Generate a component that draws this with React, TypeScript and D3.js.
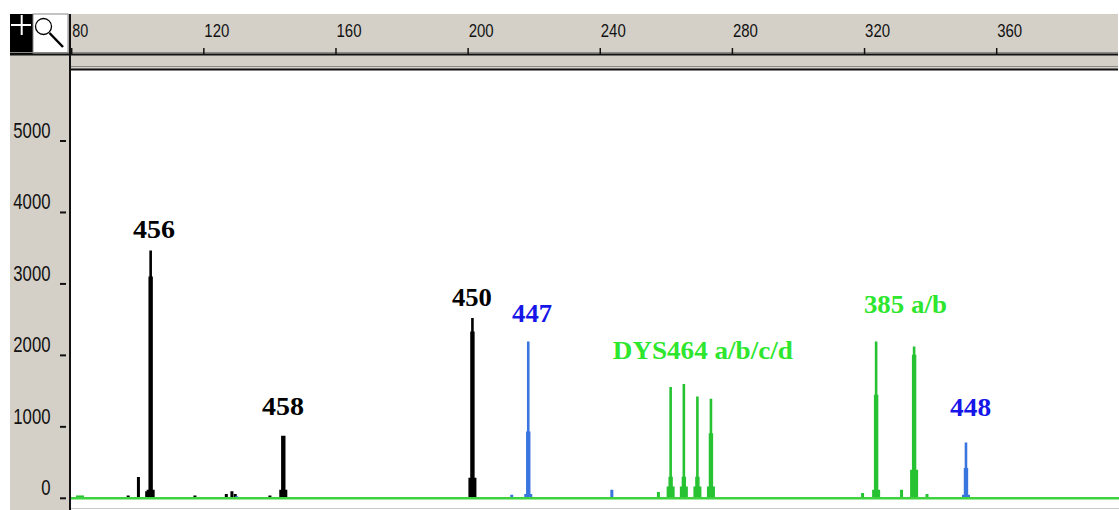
import React from "react";
import * as d3 from "d3";

// Fragment size ruler (bp) and signal intensity (RFU) ticks
const xTicks = [80, 120, 160, 200, 240, 280, 320, 360];
const yTicks = [0, 1000, 2000, 3000, 4000, 5000];

type Peak = { bp: number; rfu: number; shoulder?: number; base?: number };

// Black dye channel
const blackPeaks: Peak[] = [
  { bp: 97.1, rfu: 40 },
  { bp: 100.2, rfu: 297 },
  { bp: 102.7, rfu: 100 },
  { bp: 103.9, rfu: 3468, shoulder: 3104, base: 120 },
  { bp: 117.3, rfu: 40 },
  { bp: 126.8, rfu: 60 },
  { bp: 128.5, rfu: 100 },
  { bp: 129.5, rfu: 60 },
  { bp: 140.0, rfu: 40 },
  { bp: 144.05, rfu: 875, shoulder: 875, base: 120 },
  { bp: 201.3, rfu: 2522, shoulder: 2335, base: 288 },
];

// Blue dye channel
const bluePeaks: Peak[] = [
  { bp: 129.9, rfu: 30 },
  { bp: 213.2, rfu: 50 },
  { bp: 218.2, rfu: 2195, shoulder: 935, base: 60 },
  { bp: 243.5, rfu: 120 },
  { bp: 261.3, rfu: 30 },
  { bp: 265.3, rfu: 30 },
  { bp: 269.4, rfu: 30 },
  { bp: 273.5, rfu: 30 },
  { bp: 323.5, rfu: 30 },
  { bp: 335.0, rfu: 30 },
  { bp: 350.7, rfu: 781, shoulder: 423, base: 50 },
];

// Green dye channel
const greenPeaks: Peak[] = [
  { bp: 82.5, rfu: 40, base: 40 },
  { bp: 257.6, rfu: 87 },
  { bp: 261.3, rfu: 1556, shoulder: 300, base: 165 },
  { bp: 265.3, rfu: 1598, shoulder: 300, base: 165 },
  { bp: 269.4, rfu: 1425, shoulder: 300, base: 165 },
  { bp: 273.5, rfu: 1393, shoulder: 912, base: 165 },
  { bp: 319.4, rfu: 73 },
  { bp: 323.5, rfu: 2195, shoulder: 1449, base: 120 },
  { bp: 331.2, rfu: 119 },
  { bp: 335.0, rfu: 2125, shoulder: 2008, base: 399 },
  { bp: 338.9, rfu: 60 },
];

// Allele annotations, anchored at (bp, rfu) of the text's start / baseline
const labelTexts = ["456", "458", "450", "447", "DYS464 a/b/c/d", "385 a/b", "448"];
const labelBp = [98.56, 137.6, 195.1, 213.3, 243.8, 319.8, 345.9];
const labelRfu = [3643, 1166, 2694, 2467, 1949, 2597, 1152];
const labelDye = ["black", "black", "black", "blue", "green", "green", "blue"];

const W = 1119;
const H = 510;

const dyeFill: Record<string, string> = {
  black: "#000000",
  blue: "#3a74de",
  green: "#26c232",
};
const dyeText: Record<string, string> = {
  black: "#000000",
  blue: "#1616e8",
  green: "#2ee62e",
};
const labelWidth = [42, 42, 40, 40, 180, 83, 41];

export default function App() {
  const x = d3.scaleLinear().domain([80, 360]).range([71.7, 996.7]);
  const y = d3.scaleLinear().domain([0, 5000]).range([498.3, 141]);
  const line = d3.line();

  const peakPath = (p: Peak) => {
    const cx = x(p.bp);
    const y0 = y(0);
    const top = y(p.rfu);
    const base = p.base ?? 0;
    const bs = y(base);
    const sh = y(Math.max(p.shoulder ?? 0, base));
    const w1 = p.shoulder || p.base ? 1.3 : 1.5;
    const w2 = 2.2;
    const w3 = 4;
    const pts: [number, number][] = [
      [cx - w3, y0],
      [cx - w3, bs],
      [cx - w2, bs],
      [cx - w2, sh],
      [cx - w1, sh],
      [cx - w1, top],
      [cx + w1, top],
      [cx + w1, sh],
      [cx + w2, sh],
      [cx + w2, bs],
      [cx + w3, bs],
      [cx + w3, y0],
    ];
    return line(pts) + "Z";
  };

  const narrow = "'Liberation Sans Narrow', 'Arial Narrow', 'Liberation Sans', Arial, sans-serif";
  const gray = "#d4d0c8";

  return (
    <div style={{ position: "absolute", left: 0, top: 0 }}>
      <svg width={W} height={H} style={{ display: "block" }}>
        <rect x={0} y={0} width={W} height={H} fill="#ffffff" />
        {/* window chrome */}
        <rect x={10} y={14} width={1108} height={56} fill={gray} />
        <rect x={10} y={14} width={60} height={H - 14} fill={gray} />
        {/* tool buttons */}
        <rect x={10} y={14} width={23} height={40} fill="#000" />
        <line x1={21.7} x2={21.7} y1={15} y2={35} stroke="#fff" strokeWidth={2} />
        <line x1={11} x2={31} y1={25} y2={25} stroke="#fff" strokeWidth={2} />
        <rect x={33} y={14} width={35} height={40} fill="#fff" stroke="#888" strokeWidth={1} />
        <circle cx={43.5} cy={26.5} r={8} fill="none" stroke="#000" strokeWidth={1.3} />
        <line x1={49.5} y1={33} x2={63} y2={47} stroke="#000" strokeWidth={2.5} />
        {/* ruler lines */}
        <line x1={10} x2={1118} y1={52.5} y2={52.5} stroke="#8a8a86" strokeWidth={1} />
        <line x1={10} x2={1118} y1={54.5} y2={54.5} stroke="#111" strokeWidth={2} />
        <line x1={70} x2={1118} y1={66.5} y2={66.5} stroke="#8a8a86" strokeWidth={1} />
        <line x1={70} x2={1118} y1={69.5} y2={69.5} stroke="#111" strokeWidth={2} />
        {/* plot area */}
        <rect x={71} y={71} width={W - 71} height={437} fill="#ffffff" />
        <line x1={71} x2={W} y1={508.5} y2={508.5} stroke="#c8c8c8" strokeWidth={1} />
        <line x1={70} x2={70} y1={14} y2={H} stroke="#111" strokeWidth={2} />

        {/* top ruler ticks */}
        {xTicks.map((t) => (
          <g key={"xt" + t}>
            <line x1={x(t)} x2={x(t)} y1={48} y2={54} stroke="#111" strokeWidth={1.5} />
            <text
              x={x(t) + 0.5}
              y={36.5}
              fontFamily={narrow}
              fontSize={19}
              fill="#111"
              textLength={t >= 100 ? 25 : 16}
              lengthAdjust="spacingAndGlyphs"
            >
              {t}
            </text>
          </g>
        ))}

        {/* left axis ticks */}
        {yTicks.map((t) => (
          <g key={"yt" + t}>
            <line x1={60} x2={66} y1={y(t)} y2={y(t)} stroke="#111" strokeWidth={2} />
            <text
              x={50.5}
              y={y(t) - 3.3}
              textAnchor="end"
              fontFamily={narrow}
              fontSize={22}
              fill="#111"
              textLength={String(t).length * 9.3}
              lengthAdjust="spacingAndGlyphs"
            >
              {t}
            </text>
          </g>
        ))}

        {/* electropherogram traces */}
        <g fill={dyeFill.black}>
          {blackPeaks.map((p, i) => (
            <path key={"k" + i} d={peakPath(p)} />
          ))}
        </g>
        <g fill={dyeFill.blue}>
          {bluePeaks.map((p, i) => (
            <path key={"b" + i} d={peakPath(p)} />
          ))}
        </g>
        <g fill={dyeFill.green}>
          {greenPeaks.map((p, i) => (
            <path key={"g" + i} d={peakPath(p)} />
          ))}
        </g>
        <line x1={71} x2={W} y1={y(0)} y2={y(0)} stroke="#3fd23f" strokeWidth={2.5} />

        {/* allele labels */}
        {labelTexts.map((s, i) => (
          <text
            key={"l" + i}
            x={x(labelBp[i])}
            y={y(labelRfu[i])}
            fontFamily="'Liberation Serif', 'Times New Roman', serif"
            fontWeight="bold"
            fontSize={25}
            fill={dyeText[labelDye[i]]}
            textLength={labelWidth[i]}
            lengthAdjust="spacingAndGlyphs"
          >
            {s}
          </text>
        ))}
      </svg>
    </div>
  );
}
